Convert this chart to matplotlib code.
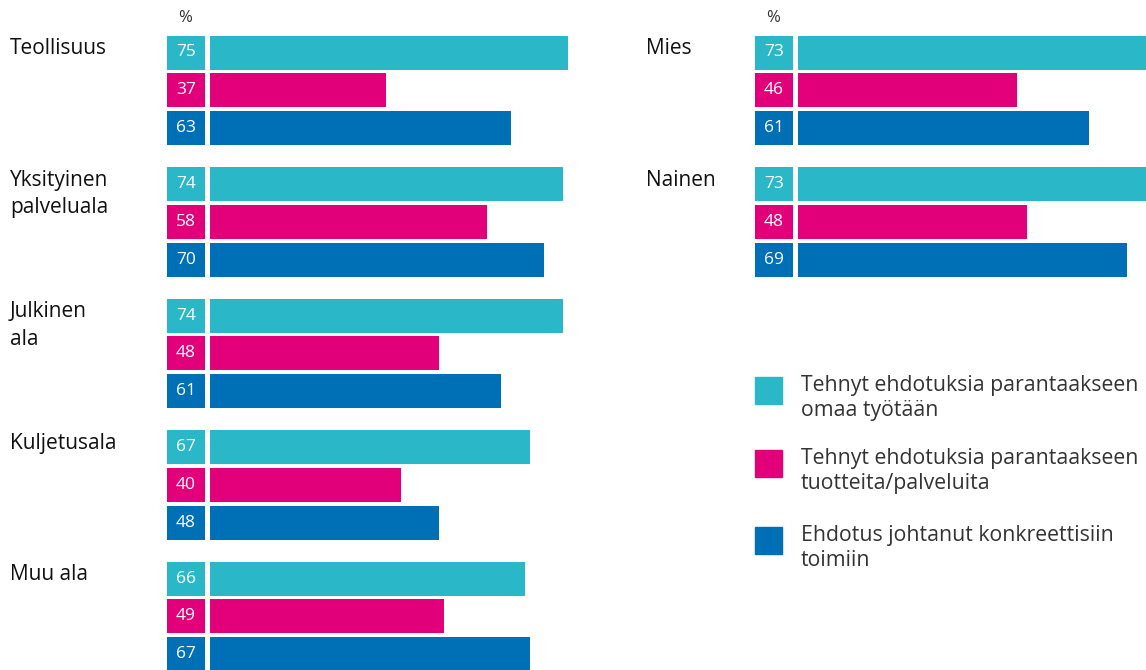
import numpy as np
import matplotlib.pyplot as plt
from matplotlib.patches import Rectangle

plt.rcParams['font.family'] = ['Open Sans', 'DejaVu Sans']

# data
left_groups = ['Teollisuus', 'Yksityinen\npalveluala', 'Julkinen\nala', 'Kuljetusala', 'Muu ala']
left_omaa = [75, 74, 74, 67, 66]
left_tuotteet = [37, 58, 48, 40, 49]
left_toimet = [63, 70, 61, 48, 67]

right_groups = ['Mies', 'Nainen']
right_omaa = [73, 73]
right_tuotteet = [46, 48]
right_toimet = [61, 69]

series_names = ['Tehnyt ehdotuksia parantaakseen\nomaa työtään',
                'Tehnyt ehdotuksia parantaakseen\ntuotteita/palveluita',
                'Ehdotus johtanut konkreettisiin\ntoimiin']
colors = ['#2AB8C9', '#E2007A', '#0070B6']

W, H = 1146, 670
PX = 4.77          # pixels per percent unit
ROW = 37.8         # row pitch in px
GROUP = 131.5      # group pitch in px
BAR_H = 34 / ROW
FIRST = 52.5 / ROW

fig = plt.figure(figsize=(W / 100, H / 100), dpi=100)


def make_axes(box_left_px, zero_px, right_px):
    ax = fig.add_axes([box_left_px / W, 0, (right_px - box_left_px) / W, 1])
    ax.set_xlim(-(zero_px - box_left_px) / PX, (right_px - zero_px) / PX)
    ax.set_ylim(H / ROW, 0)
    ax.axis('off')
    return ax


def draw_panel(ax, groups, series, label_x_px, box_left_px, zero_px):
    box_l = -(zero_px - box_left_px) / PX
    box_w = 38 / PX
    for g, name in enumerate(groups):
        base = FIRST + g * GROUP / ROW
        for r, vals in enumerate(series):
            y = base + r
            v = vals[g]
            ax.barh(y, v, height=BAR_H, left=0, color=colors[r], clip_on=False)
            ax.barh(y, box_w, height=BAR_H, left=box_l, color=colors[r])
            ax.text(box_l + box_w / 2, y, str(v), color='white', fontsize=12.5,
                    ha='center', va='center')
        fig.text(label_x_px / W, 1 - (base * ROW - 14) / H, name, fontsize=15,
                 ha='left', va='top', color='#111111', linespacing=1.4)
    ax.text(box_l + box_w / 2 - 0.3, 18 / ROW, '%', fontsize=12, ha='center',
            va='center', color='#333333')


axl = make_axes(167, 210, 640)
draw_panel(axl, left_groups, [left_omaa, left_tuotteet, left_toimet], 10, 167, 210)

axr = make_axes(755, 798, W)
draw_panel(axr, right_groups, [right_omaa, right_tuotteet, right_toimet], 646, 755, 798)

# legend
leg_top = [377, 450, 527]
for i, name in enumerate(series_names):
    fig.patches.append(Rectangle((755 / W, 1 - (leg_top[i] + 27) / H), 27 / W, 27 / H,
                                 transform=fig.transFigure, color=colors[i]))
    fig.text(801 / W, 1 - (leg_top[i] - 2) / H, name, fontsize=15.3, ha='left',
             va='top', color='#333333', linespacing=1.25)

fig.savefig('out.png', dpi=100)
